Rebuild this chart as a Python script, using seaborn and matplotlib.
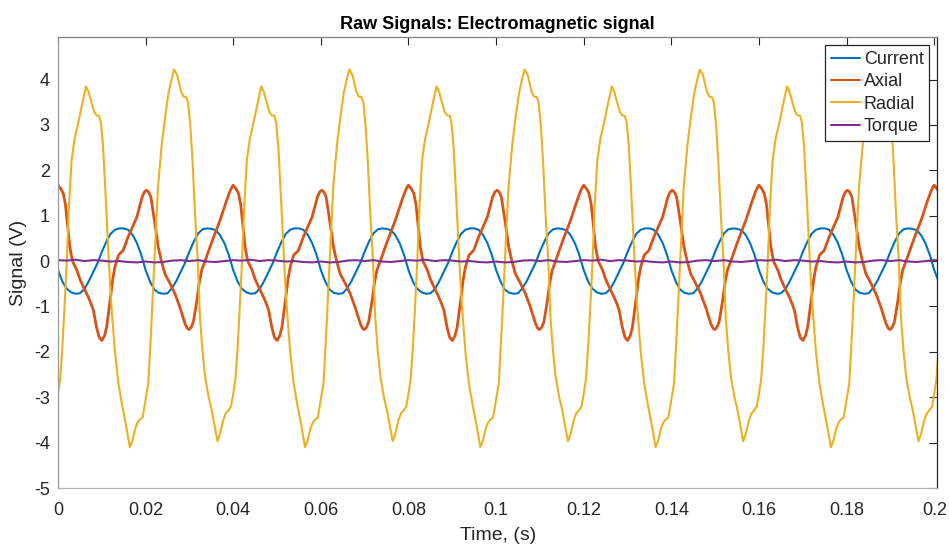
import numpy as np
import pandas as pd
import seaborn as sns
import matplotlib.pyplot as plt

# one 0.04 s cycle for each signal, repeated along the time axis
cycle_len = 0.04
n_cycles = 6

radial_t = [0.0000, 0.0005, 0.0010, 0.0015, 0.0020, 0.0025, 0.0031, 0.0038, 0.0046, 0.0055,
            0.0064, 0.0070, 0.0077, 0.0083, 0.0088, 0.0094, 0.0098, 0.0103, 0.0110, 0.0116,
            0.0122, 0.0130, 0.0138, 0.0146, 0.0155, 0.0164, 0.0170, 0.0176, 0.0182, 0.0188,
            0.0193, 0.0199, 0.0206, 0.0210, 0.0214, 0.0220, 0.0228, 0.0237, 0.0245, 0.0252,
            0.0259, 0.0265, 0.0272, 0.0281, 0.0287, 0.0292, 0.0297, 0.0302, 0.0307, 0.0313,
            0.0319, 0.0324, 0.0330, 0.0336, 0.0344, 0.0351, 0.0358, 0.0364, 0.0370, 0.0377,
            0.0383, 0.0389, 0.0395]
radial_v = [-2.92, -2.60, -1.90, -1.00, 0.00, 1.20, 2.22, 2.70, 3.03, 3.45,
            3.85, 3.72, 3.47, 3.28, 3.21, 3.20, 3.05, 2.51, 1.20, 0.00,
            -1.00, -2.00, -2.70, -3.15, -3.60, -4.10, -3.95, -3.70, -3.55, -3.48,
            -3.45, -3.10, -2.70, -2.00, -1.23, 0.00, 1.60, 2.59, 3.20, 3.69,
            4.00, 4.22, 4.10, 3.73, 3.62, 3.62, 3.50, 3.00, 2.22, 1.00,
            0.00, -1.23, -2.00, -2.56, -3.00, -3.29, -3.65, -3.97, -3.80, -3.51,
            -3.35, -3.29, -3.20]

axial_t = [0.0000, 0.0006, 0.0012, 0.0017, 0.0020, 0.0027, 0.0033, 0.0043, 0.0050, 0.0058,
           0.0069, 0.0076, 0.0081, 0.0088, 0.0094, 0.0100, 0.0106, 0.0111, 0.0119, 0.0125,
           0.0130, 0.0138, 0.0149, 0.0160, 0.0170, 0.0180, 0.0192, 0.0197, 0.0202, 0.0207,
           0.0212, 0.0220, 0.0229, 0.0236, 0.0244, 0.0256, 0.0267, 0.0278, 0.0290, 0.0295,
           0.0299, 0.0304, 0.0309, 0.0317, 0.0322, 0.0328, 0.0339, 0.0351, 0.0360, 0.0370,
           0.0385, 0.0393, 0.0398]
axial_v = [1.67, 1.60, 1.49, 1.25, 0.97, 0.31, 0.00, -0.20, -0.40, -0.57,
           -0.79, -0.95, -1.09, -1.46, -1.68, -1.75, -1.65, -1.46, -0.87, -0.40,
           -0.13, 0.13, 0.24, 0.53, 0.75, 0.97, 1.41, 1.52, 1.56, 1.52,
           1.41, 0.90, 0.30, 0.00, -0.28, -0.50, -0.72, -1.01, -1.38, -1.48,
           -1.51, -1.46, -1.34, -0.87, -0.50, -0.20, 0.09, 0.42, 0.65, 0.90,
           1.34, 1.55, 1.65]

current_t = [0.000, 0.001, 0.002, 0.003, 0.004, 0.005, 0.006, 0.007, 0.008, 0.009,
             0.010, 0.011, 0.012, 0.013, 0.014, 0.015, 0.016, 0.017, 0.018, 0.019,
             0.020, 0.021, 0.022, 0.023, 0.024, 0.025, 0.026, 0.027, 0.028, 0.029,
             0.030, 0.031, 0.032, 0.033, 0.034, 0.035, 0.036, 0.037, 0.038, 0.039]
current_v = [-0.20, -0.45, -0.61, -0.69, -0.72, -0.71, -0.62, -0.45, -0.25, -0.05,
             0.20, 0.42, 0.60, 0.69, 0.72, 0.72, 0.69, 0.58, 0.40, 0.14,
             -0.20, -0.45, -0.63, -0.70, -0.72, -0.71, -0.60, -0.44, -0.24, -0.04,
             0.21, 0.43, 0.61, 0.70, 0.72, 0.71, 0.68, 0.57, 0.39, 0.13]

torque_t = [0.000, 0.002, 0.004, 0.006, 0.008, 0.010, 0.012, 0.014, 0.016, 0.018,
            0.020, 0.022, 0.024, 0.026, 0.028, 0.030, 0.032, 0.034, 0.036, 0.038]
torque_v = [0.02, 0.01, 0.03, 0.00, 0.02, 0.01, -0.01, 0.00, -0.02, -0.03,
            -0.01, -0.03, -0.02, 0.01, 0.02, 0.00, 0.02, -0.01, -0.02, 0.00]

signal_names = ['Current', 'Axial', 'Radial', 'Torque']
colors = ['#0072BD', '#D95319', '#EDB120', '#7E2F8E']
cycles = {'Current': (current_t, current_v), 'Axial': (axial_t, axial_v),
          'Radial': (radial_t, radial_v), 'Torque': (torque_t, torque_v)}

rows = []
for name in signal_names:
    ct, cv = cycles[name]
    for k in range(n_cycles):
        for t, v in zip(ct, cv):
            rows.append((name, t + k * cycle_len, v))
df = pd.DataFrame(rows, columns=['signal', 'time', 'value'])

sns.set_style('white')
plt.rcParams['font.family'] = ['Liberation Sans', 'DejaVu Sans']
plt.rcParams['axes.unicode_minus'] = False

fig = plt.figure(figsize=(9.49, 5.46), dpi=100)
ax = fig.add_axes([0.0611, 0.1062, 0.9266, 0.8255])

sns.lineplot(data=df, x='time', y='value', hue='signal', hue_order=signal_names,
             palette=colors, estimator=None, sort=True, linewidth=1.5, ax=ax)
# axial trace is noisy in the original, draw it a little heavier
ax.get_lines()[1].set_linewidth(2.0)

ax.set_xlim(0, 0.2007)
ax.set_ylim(-5, 4.93)
ax.set_xticks(np.arange(0, 0.201, 0.02))
ax.set_xticklabels(['0', '0.02', '0.04', '0.06', '0.08', '0.1', '0.12', '0.14', '0.16', '0.18', '0.2'])
ax.set_yticks(np.arange(-5, 5, 1))
ax.tick_params(direction='in', length=6, width=0.8, color='#262626', labelcolor='#262626',
               labelsize=13, top=True, right=True)
ax.tick_params(axis='x', pad=10)
ax.tick_params(axis='y', pad=6)

ax.spines['left'].set_color('#999999')
ax.spines['bottom'].set_color('#b0b0b0')
ax.spines['top'].set_color('#808080')
ax.spines['right'].set_color('#262626')
for s in ax.spines.values():
    s.set_linewidth(0.9)

ax.set_title('Raw Signals: Electromagnetic signal', fontsize=13, fontweight='bold', color='black', pad=6)
ax.set_xlabel('Time, (s)', fontsize=14, color='#262626', labelpad=6)
ax.set_ylabel('Signal (V)', fontsize=14, color='#262626', labelpad=5)

handles, labels = ax.get_legend_handles_labels()
for h in handles:
    h.set_linewidth(1.5)
leg = ax.legend(handles, labels, loc='upper right', fontsize=13, frameon=True, fancybox=False,
                edgecolor='#262626', framealpha=1, handlelength=1.65, handletextpad=0.2,
                labelspacing=0.3, borderpad=0.3, borderaxespad=0.45)
leg.get_frame().set_linewidth(0.9)

fig.savefig('out.png', dpi=100)
